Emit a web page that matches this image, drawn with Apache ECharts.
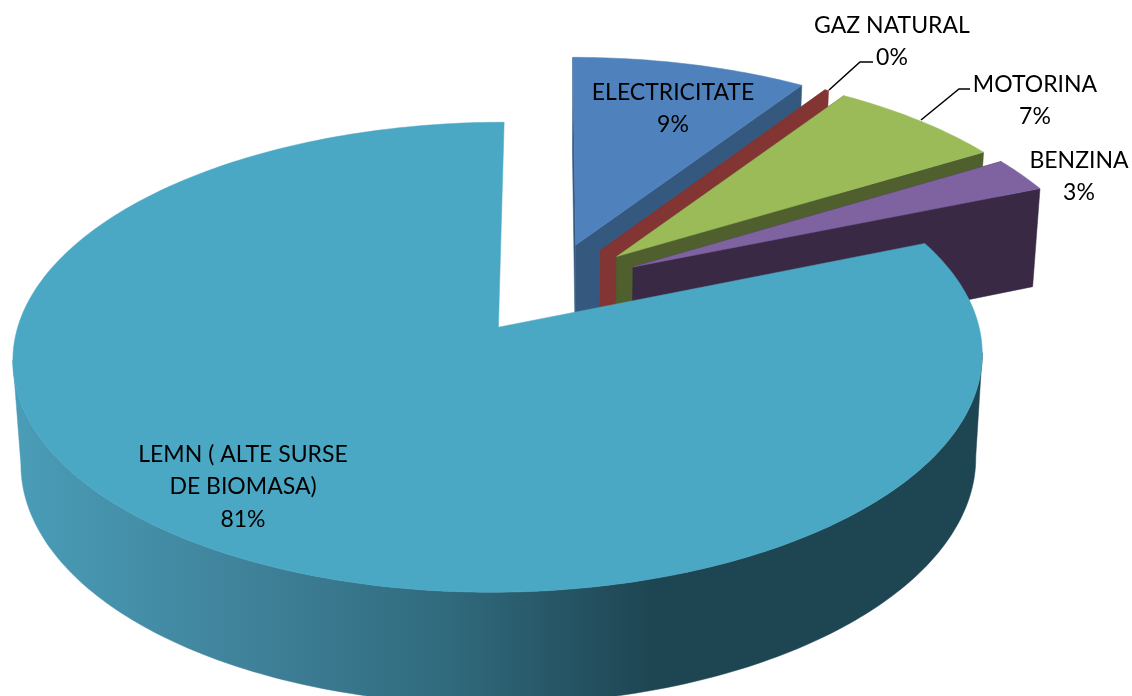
<!DOCTYPE html>
<html>
<head>
<meta charset="utf-8">
<style>
html, body { margin: 0; padding: 0; background: #fff; }
#chart { width: 1132px; height: 696px; }
</style>
<script src="https://cdn.jsdelivr.net/npm/echarts@6/dist/echarts.min.js"></script>
</head>
<body>
<div id="chart"></div>
<script>
var categories = ['ELECTRICITATE', 'GAZ NATURAL', 'MOTORINA', 'BENZINA', 'LEMN ( ALTE SURSE\nDE BIOMASA)'];
var shares = [9.25, 0.15, 6.9, 2.5, 81.2];

var topColors = ['#4F81BD', '#823533', '#9BBB59', '#7F63A1', '#4AA8C4'];
var sideColors = ['#35587F', '#823533', '#4F5F2D', '#392944', '#1E4552'];
var labelAt = [[673, 91], [892, 24], [1035, 83], [1079, 159], [243, 453]];
var leaderLines = [null, [[829, 90], [860, 62], [873, 62]], [[921, 120], [959, 89], [970, 89]], null, null];
var explodeU = [0.203, 0.203, 0.203, 0.203, 0.189];
var explodeV = [0.203, 0.203, 0.203, 0.203, 0.214];

// perspective of the tilted pie
var cx = 549, cy = 287, rx = 470, ry = 221, persp = 0.125;
var drop = 101.5, shrinkX = 0.985, stretchY = 1.035;

var total = shares.reduce((a, b) => a + b, 0);

project = (u, v, low) => {
    var w = 1 / (1 - persp * v);
    var x = rx * u * w;
    var y = ry * v * w;
    return low ? [cx + x * shrinkX, cy + y * stretchY + drop] : [cx + x, cy + y];
};

var woodSide = new echarts.graphic.LinearGradient(12, 0, 982, 0, [
    { offset: 0, color: '#4A9DB8' },
    { offset: 0.25, color: '#3F8199' },
    { offset: 0.45, color: '#306A7D' },
    { offset: 0.66, color: '#1E4552' },
    { offset: 1, color: '#1E4552' }
], true);

renderSlice = (params, api) => {
    var i = params.dataIndex;
    var before = shares.slice(0, i).reduce((a, b) => a + b, 0);
    var a0 = before / total * 2 * Math.PI;
    var a1 = (before + api.value(0)) / total * 2 * Math.PI;
    var mid = (a0 + a1) / 2;
    var ou = explodeU[i] * Math.sin(mid);
    var ov = -explodeV[i] * Math.cos(mid);

    var poly = (points, fill, z) => ({
        type: 'polygon',
        z2: i * 10 + z,
        shape: { points: points },
        style: { fill: fill, stroke: fill, lineWidth: 0.5 }
    });

    var arcTop = [], arcLow = [];
    var steps = Math.max(2, Math.ceil((a1 - a0) * 60));
    for (let s = 0; s <= steps; s++) {
        let a = a0 + (a1 - a0) * s / steps;
        arcTop.push(project(ou + Math.sin(a), ov - Math.cos(a), false));
        arcLow.push(project(ou + Math.sin(a), ov - Math.cos(a), true));
    }
    var apexTop = project(ou, ov, false);
    var apexLow = project(ou, ov, true);

    var children = [];
    if (i === 4) {
        // rim of the big slice, only between its widest points so the silhouette stays full
        let xs = arcTop.map((p) => p[0]);
        let from = xs.indexOf(Math.max(...xs));
        let to = xs.indexOf(Math.min(...xs)) + 1;
        let rim = arcTop.slice(from, to).concat(arcLow.slice(from, to).reverse());
        children.push(poly(rim, woodSide, 0));
    } else {
        children.push(poly([apexTop, arcTop[0], arcLow[0], apexLow], sideColors[i], 1));
        children.push(poly([apexTop, arcTop[steps], arcLow[steps], apexLow], sideColors[i], 2));
    }
    children.push(poly([apexTop].concat(arcTop), topColors[i], 3));

    if (leaderLines[i]) {
        children.push({
            type: 'polyline',
            z2: 100,
            shape: { points: leaderLines[i] },
            style: { fill: null, stroke: '#000', lineWidth: 1.5 }
        });
    }
    children.push({
        type: 'text',
        z2: 101,
        style: {
            text: categories[i] + '\n' + Math.round(api.value(0)) + '%',
            x: labelAt[i][0],
            y: labelAt[i][1] - 15,
            align: 'center',
            verticalAlign: 'top',
            font: '23px Lato',
            lineHeight: 32.5,
            fill: '#000'
        }
    });
    return { type: 'group', children: children };
};

var chart = echarts.init(document.getElementById('chart'));
chart.setOption({
    animation: false,
    backgroundColor: '#fff',
    tooltip: { show: false },
    series: [{
        type: 'custom',
        coordinateSystem: 'none',
        silent: true,
        renderItem: renderSlice,
        data: shares.map((v, i) => ({ name: categories[i], value: [v] }))
    }]
});
</script>
</body>
</html>
